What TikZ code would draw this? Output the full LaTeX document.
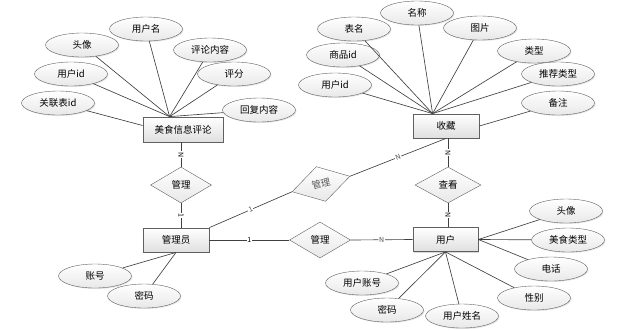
\documentclass[tikz,border=0pt]{standalone}
\usepackage{fontspec}
\setmainfont{Noto Sans CJK SC}
\usetikzlibrary{shapes.geometric,shadows}

\begin{document}
\begin{tikzpicture}[x=1pt, y=-1pt, font=\fontsize{9.5}{10}\selectfont,
        entity/.style={draw=gray!75!black, thick, top color=white, bottom color=gray!25, minimum width=66pt, minimum height=24pt, inner sep=0pt, drop shadow={opacity=0.3, shadow xshift=1.2pt, shadow yshift=-1.2pt}},
        attr/.style={ellipse, draw=gray!75!black, top color=white, bottom color=gray!18, minimum width=73pt, minimum height=24pt, inner sep=0pt, drop shadow={opacity=0.2, shadow xshift=1pt, shadow yshift=-1pt}},
        rel/.style={diamond, draw=gray!75!black, top color=white, bottom color=gray!18, minimum width=61pt, minimum height=36pt, inner sep=0pt},
        link/.style={draw=gray!50!black, line width=0.65pt},
        card/.style={midway, sloped, fill=white, inner sep=0.8pt, font=\fontsize{7}{7}\selectfont, text=gray!60!black}]
            \useasboundingbox (0,0) rectangle (636,330);
            \node[entity, minimum width=80pt, minimum height=25pt] (pl) at (183,129.5) {美食信息评论};
            \node[entity] (sc) at (446,126) {收藏};
            \node[entity] (gly) at (176,240) {管理员};
            \node[entity, minimum width=65pt] (yh) at (445.5,239.5) {用户};
            \node[rel] (gl1) at (181,185) {管理};
            \node[rel, minimum width=66pt] (ck) at (448,185) {查看};
            \node[rel] (gl3) at (320,240) {管理};
            \node[rel, minimum width=60pt, rotate=15, text=gray!70!black] (gl2) at (321,184) {管理};
            \node[attr] (a1) at (146,29) {用户名};
            \node[attr] (a2) at (82,45) {头像};
            \node[attr] (a3) at (210,50) {评论内容};
            \node[attr] (a4) at (71,74) {用户id};
            \node[attr] (a5) at (234,74) {评分};
            \node[attr] (a6) at (58,103) {关联表id};
            \node[attr] (a7) at (259,110) {回复内容};
            \node[attr] (b1) at (417,13) {名称};
            \node[attr] (b2) at (354,29) {表名};
            \node[attr] (b3) at (480,28) {图片};
            \node[attr] (b4) at (343,55) {商品id};
            \node[attr] (b5) at (534,51) {类型};
            \node[attr] (b6) at (558,74) {推荐类型};
            \node[attr] (b7) at (335,85) {用户id};
            \node[attr] (b8) at (558,103) {备注};
            \node[attr] (c1) at (95,276) {账号};
            \node[attr] (c2) at (144,296) {密码};
            \node[attr] (d1) at (566,211) {头像};
            \node[attr] (d2) at (568,240) {美食类型};
            \node[attr] (d3) at (551,269) {电话};
            \node[attr] (d4) at (534,298) {性别};
            \node[attr] (d5) at (362,283) {用户账号};
            \node[attr] (d6) at (387,310) {密码};
            \node[attr] (d7) at (462,316) {用户姓名};
            \draw[link] (a1) -- ([xshift=27pt]pl.north west);
            \draw[link] (a2) -- ([xshift=27pt]pl.north west);
            \draw[link] (a3) -- ([xshift=27pt]pl.north west);
            \draw[link] (a4) -- ([xshift=27pt]pl.north west);
            \draw[link] (a5) -- ([xshift=27pt]pl.north west);
            \draw[link] (a7) -- ([xshift=27pt]pl.north west);
            \draw[link] (a6) -- ([yshift=4pt]pl.west);
            \draw[link] (b1) -- ([xshift=20pt]sc.north west);
            \draw[link] (b2) -- ([xshift=20pt]sc.north west);
            \draw[link] (b3) -- ([xshift=20pt]sc.north west);
            \draw[link] (b4) -- ([xshift=20pt]sc.north west);
            \draw[link] (b5) -- ([xshift=20pt]sc.north west);
            \draw[link] (b6) -- ([xshift=20pt]sc.north west);
            \draw[link] (b7) -- ([xshift=20pt]sc.north west);
            \draw[link] (b8) -- (sc.east);
            \draw[link] (c1) -- (gly.south);
            \draw[link] (c2) -- (gly.south);
            \draw[link] (d1) -- (yh.east);
            \draw[link] (d2) -- (yh.east);
            \draw[link] (d3) -- (yh.east);
            \draw[link] (d4) -- (yh.south);
            \draw[link] (d5) -- (yh.south);
            \draw[link] (d6) -- (yh.south);
            \draw[link] (d7) -- (yh.south);
            \draw[link] (gl1.north |- pl.south) -- node[card, text=black] {N} (gl1.north);
            \draw[link] (gl1.south) -- node[card, text=black] {1} (gl1.south |- gly.north);
            \draw[link] (ck.north |- sc.south) -- node[card, text=black] {N} (ck.north);
            \draw[link] (ck.south) -- node[card, text=black] {N} (ck.south |- yh.north);
            \draw[link] (gly.north east) -- node[card] {1} (gl2.west);
            \draw[link] (gl2.east) -- node[card] {N} (sc.south);
            \draw[link] (gly.east) -- node[card, text=black] {1} (gl3.west);
            \draw[link] (gl3.east) -- node[card] {N} (yh.west);
        \end{tikzpicture}
\end{document}
